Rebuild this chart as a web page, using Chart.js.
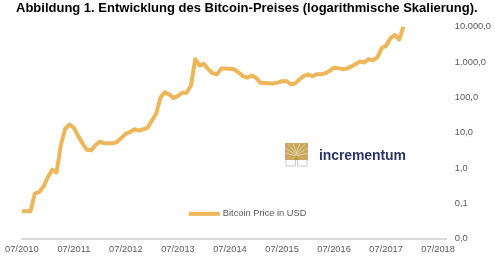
<!DOCTYPE html>
<html>
<head>
<meta charset="utf-8">
<script src="https://cdn.jsdelivr.net/npm/chart.js@4"></script>
<style>
  html,body{margin:0;padding:0;background:#fff;}
  #wrap{position:relative;width:495px;height:256px;}
  #logo{position:absolute;left:285px;top:143px;display:flex;align-items:center;}
  #logo span{font:bold 14px 'Liberation Sans',Arial,sans-serif;color:#2d3766;margin-left:11px;letter-spacing:-0.1px;}
</style>
</head>
<body>
<div id="wrap">
  <canvas id="c" width="495" height="256"></canvas>
  <div id="logo">
    <svg width="23" height="24" viewBox="0 0 23 24">
      <rect x="0" y="0" width="23" height="17" fill="#c9a95e"/>
      <path d="M11.5 17V10M11.5 11L3 1M11.5 11L20 1M11.5 10L8 0M11.5 10L15 0M11.5 12L0 5M11.5 12L23 5M11.5 13L0 10M11.5 13L23 10" stroke="#e6d6a8" stroke-width="0.8" fill="none"/>
      <path d="M9 17L11.5 12L14 17Z" fill="#b8964a"/>
      <path d="M1 17V23H10.5V17M12.5 17V23H22V17" stroke="#c8c8c8" stroke-width="1" fill="none"/>
    </svg>
    <span>incrementum</span>
  </div>
</div>
<script>
// monthly BTC price in USD, starting 07/2010
const startYear = 2010;
const prices = [0.06,0.06,0.06,0.19,0.21,0.3,0.55,0.9,0.75,4.5,13,17,
  14,8,5,3.3,3.2,4.5,5.6,5,5,5,5.5,7.2,
  9.4,10.5,12.5,11.5,12.5,14,22,35,100,140,120,95,
  110,135,135,215,1200,790,880,620,480,445,650,650,
  640,620,500,400,360,410,360,260,255,250,245,260,
  285,290,235,245,320,400,445,400,450,450,480,560,
  690,670,620,650,750,880,1030,970,1200,1120,1350,2500,
  2900,4700,5800,4300,10000];
const xTicks = [0,12,24,36,48,60,72,84,96];   // months after 07/2010
const yTicks = [0.01,0.1,1,10,100,1000,10000];
const seriesName = 'Bitcoin Price in USD';

const gray = '#595959';
const tickFont = {family:"'Liberation Sans', Arial, sans-serif", size:9.3};

function deNum(v){
  const s = v.toFixed(1).split('.');
  return s[0].replace(/\B(?=(\d{3})+(?!\d))/g,'.') + ',' + s[1];
}

const legendInside = {
  id:'legendInside',
  afterDraw(chart){
    const {ctx, chartArea:a} = chart;
    const ds = chart.data.datasets[0];
    const x = a.left + 167, y = a.bottom - 25;
    ctx.save();
    ctx.strokeStyle = ds.borderColor; ctx.lineWidth = 4;
    ctx.beginPath(); ctx.moveTo(x, y); ctx.lineTo(x+31, y); ctx.stroke();
    ctx.fillStyle = gray;
    ctx.font = "9.3px 'Liberation Sans', Arial, sans-serif";
    ctx.textBaseline = 'middle';
    ctx.fillText(ds.label, x+34, y);
    ctx.restore();
  }
};

new Chart(document.getElementById('c'), {
  type:'line',
  data:{ datasets:[{
    label: seriesName,
    data: prices.map((v,i)=>({x:i, y:v})),
    borderColor:'#edb65b', borderWidth:4, pointRadius:0, tension:0,
    borderJoinStyle:'round', fill:false }] },
  options:{
    responsive:false, animation:false, devicePixelRatio:1,
    layout:{ padding:{left:16, right:-4, top:0, bottom:-4} },
    plugins:{
      legend:{display:false}, tooltip:{enabled:false},
      title:{ display:true, align:'start', color:'#000',
        text:'Abbildung 1. Entwicklung des Bitcoin-Preises (logarithmische Skalierung).',
        font:{family:"'Liberation Sans', Arial, sans-serif", size:13, weight:'bold'},
        padding:{top:1, bottom:10} }
    },
    scales:{
      x:{ type:'linear', min:0, max:98,
        afterBuildTicks:(s)=>{ s.ticks = xTicks.map(v=>({value:v})); },
        grid:{display:false, drawTicks:false},
        border:{display:true, color:'#d9d9d9', width:2},
        ticks:{ color:gray, font:tickFont, padding:5, maxRotation:0, autoSkip:false,
          callback:(v)=>'07/' + (startYear + v/12) } },
      y:{ type:'logarithmic', position:'right', min:0.01, max:10000,
        afterBuildTicks:(s)=>{ s.ticks = yTicks.map(v=>({value:v})); },
        grid:{display:false, drawTicks:false}, border:{display:false},
        ticks:{ color:gray, font:tickFont, padding:8, callback:(v)=>deNum(v) } }
    }
  },
  plugins:[legendInside]
});
</script>
</body>
</html>
